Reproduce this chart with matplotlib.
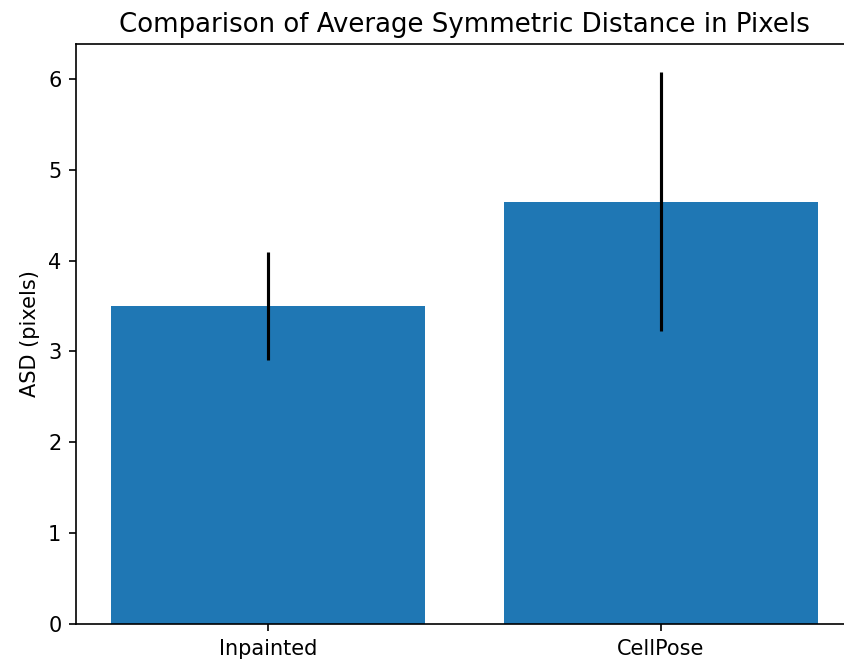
import matplotlib.pyplot as plt
import numpy as np

methods = ["Inpainted", "CellPose"]
asd_mean = [3.50, 4.65]
asd_std = [0.59, 1.43]


def main():
    fig = plt.figure(figsize=(844 / 150, 665 / 150), dpi=150)
    # axes run a little past the right edge of the figure
    ax = fig.add_axes([76 / 844, 41 / 665, 777 / 844, 580 / 665])
    x = np.arange(len(methods))
    ax.bar(x, asd_mean, yerr=asd_std, color="#1f77b4", ecolor="black", width=0.8)
    ax.set_xticks(x)
    ax.set_xticklabels(methods)
    ax.set_ylabel("ASD (pixels)")
    ax.set_title("Comparison of Average Symmetric Distance in Pixels", fontsize=12.5)
    fig.savefig("out.png", dpi=150)


if __name__ == '__main__':
    main()
